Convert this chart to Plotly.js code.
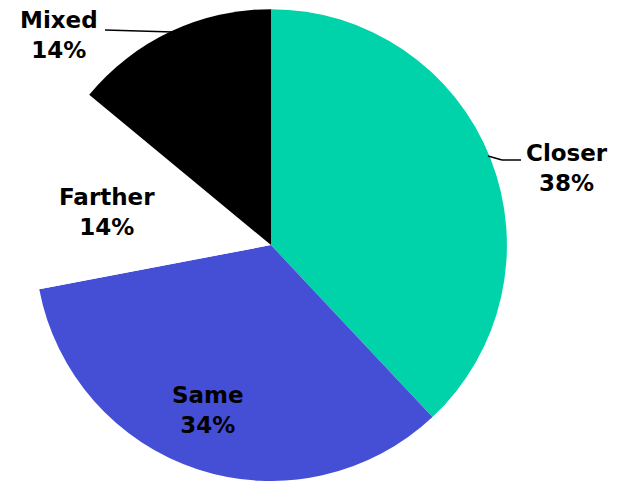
<!DOCTYPE html>
<html>
<head>
<meta charset="utf-8">
<script src="https://cdn.plot.ly/plotly-3.0.1.min.js"></script>
<style>html,body{margin:0;padding:0;background:#fff;}#chart{width:618px;height:481px;}</style>
</head>
<body>
<div id="chart"></div>
<script>
const categories = ['Closer', 'Same', 'Farther', 'Mixed'];
const shares = [38, 34, 14, 14];
const sliceColors = ['#00D2AA', '#454FD6', '#FFFFFF', '#000000'];

const W = 618, H = 481;
// label anchor positions (pixels from top-left), layout only
const labelPx = [[567, 168], [208, 410], [107, 212], [59, 35]];
// leader lines (pixels)
const leaderPx = [
  [[488, 156], [502, 160]], [[502, 160], [521, 160]],
  [[105, 30], [173, 32]]
];
const px = (x) => x / W, py = (y) => 1 - y / H;

const trace = {
  type: 'pie',
  labels: categories,
  values: shares,
  sort: false,
  direction: 'clockwise',
  rotation: 0,
  marker: {colors: sliceColors, line: {width: 0}},
  textinfo: 'none',
  hoverinfo: 'label+percent',
  domain: {x: [0.0566, 0.8204], y: [0, 0.981]}
};

const total = shares.reduce((a, b) => a + b, 0);
const annotations = categories.map((c, i) => ({
  xref: 'paper', yref: 'paper',
  x: px(labelPx[i][0]), y: py(labelPx[i][1]),
  xanchor: 'center', yanchor: 'middle',
  text: '<b>' + c + '<br>' + Math.round(shares[i] / total * 100) + '%</b>',
  showarrow: false,
  font: {family: 'DejaVu Sans', size: 23, color: '#000000'}
}));

const shapes = leaderPx.map(seg => ({
  type: 'line', xref: 'paper', yref: 'paper',
  x0: px(seg[0][0]), y0: py(seg[0][1]), x1: px(seg[1][0]), y1: py(seg[1][1]),
  line: {color: '#000000', width: 1.5}
}));

Plotly.newPlot('chart', [trace], {
  width: W, height: H,
  margin: {l: 0, r: 0, t: 0, b: 0},
  showlegend: false,
  paper_bgcolor: '#ffffff',
  annotations: annotations,
  shapes: shapes
}, {displayModeBar: false, staticPlot: true});
</script>
</body>
</html>
